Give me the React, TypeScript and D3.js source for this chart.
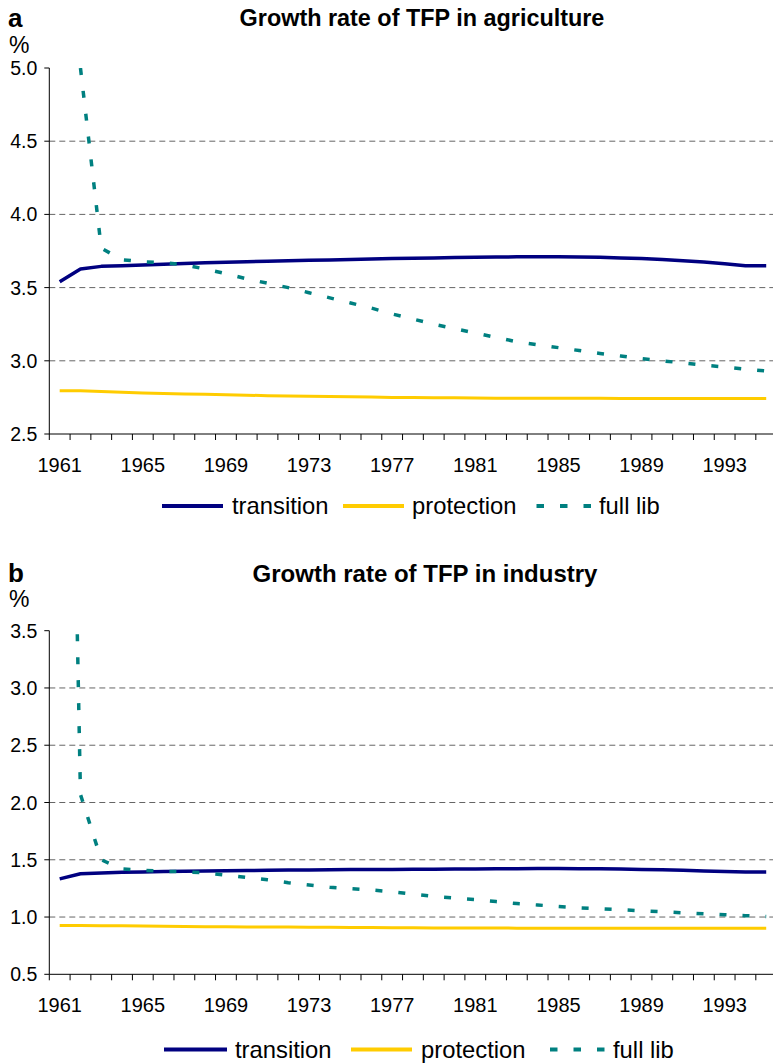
import * as d3 from 'd3';
import React from 'react';

// categories
const years = [
  1961, 1962, 1963, 1964, 1965, 1966, 1967, 1968, 1969, 1970, 1971, 1972,
  1973, 1974, 1975, 1976, 1977, 1978, 1979, 1980, 1981, 1982, 1983, 1984,
  1985, 1986, 1987, 1988, 1989, 1990, 1991, 1992, 1993, 1994, 1995,
];
const xTickLabels = [1961, 1965, 1969, 1973, 1977, 1981, 1985, 1989, 1993];

const seriesNames = ['transition', 'protection', 'full lib'];
const seriesColors = ['#000080', '#FFCC00', '#008080'];

// panel a: agriculture
const agriYTicks = [2.5, 3.0, 3.5, 4.0, 4.5, 5.0];
const agriGrid = [3.0, 3.5, 4.0, 4.5];
const agriTransition = [
  3.54, 3.627, 3.645, 3.65, 3.655, 3.66, 3.665, 3.67, 3.673, 3.677, 3.68, 3.683,
  3.686, 3.689, 3.692, 3.695, 3.698, 3.701, 3.703, 3.705, 3.708, 3.709, 3.71, 3.71,
  3.71, 3.709, 3.707, 3.703, 3.698, 3.692, 3.684, 3.675, 3.663, 3.65, 3.65,
];
const agriProtection = [
  2.795, 2.795, 2.79, 2.785, 2.78, 2.777, 2.774, 2.771, 2.768, 2.765, 2.762, 2.76,
  2.758, 2.756, 2.754, 2.752, 2.75, 2.749, 2.748, 2.747, 2.746, 2.745, 2.745, 2.744,
  2.744, 2.744, 2.744, 2.743, 2.743, 2.743, 2.743, 2.743, 2.743, 2.743, 2.743,
];
const agriFullLib = [
  null, 5.0, 3.77, 3.69, 3.677, 3.67, 3.655, 3.627, 3.595, 3.56, 3.53, 3.5,
  3.465, 3.43, 3.395, 3.36, 3.32, 3.285, 3.25, 3.22, 3.19, 3.16, 3.13, 3.11,
  3.09, 3.07, 3.05, 3.033, 3.015, 3.0, 2.985, 2.97, 2.958, 2.943, 2.93,
];

// panel b: industry
const indYTicks = [0.5, 1.0, 1.5, 2.0, 2.5, 3.0, 3.5];
const indGrid = [1.0, 1.5, 2.0, 2.5, 3.0];
const indTransition = [
  1.333, 1.378, 1.385, 1.39, 1.394, 1.397, 1.4, 1.402, 1.404, 1.406, 1.408, 1.41,
  1.411, 1.413, 1.414, 1.415, 1.416, 1.417, 1.418, 1.419, 1.42, 1.421, 1.422, 1.423,
  1.423, 1.422, 1.421, 1.419, 1.416, 1.413, 1.408, 1.403, 1.398, 1.394, 1.394,
];
const indProtection = [
  0.925, 0.925, 0.924, 0.923, 0.921, 0.919, 0.917, 0.916, 0.915, 0.914, 0.913, 0.912,
  0.911, 0.91, 0.909, 0.908, 0.907, 0.906, 0.905, 0.905, 0.904, 0.904, 0.903, 0.903,
  0.903, 0.902, 0.902, 0.902, 0.902, 0.902, 0.902, 0.902, 0.902, 0.902, 0.902,
];
const indFullLib = [
  11.3, 2.07, 1.5, 1.42, 1.408, 1.4, 1.395, 1.385, 1.365, 1.345, 1.325, 1.3,
  1.28, 1.26, 1.248, 1.236, 1.22, 1.2, 1.18, 1.165, 1.152, 1.135, 1.118, 1.105,
  1.092, 1.08, 1.072, 1.064, 1.055, 1.046, 1.037, 1.028, 1.02, 1.012, 1.005,
];

const W = 773;
const H = 1064;
const FONT = '"Liberation Sans", Arial, sans-serif';
const axisX = 49.3;
const band = 20.78;

const Panel = ({ id, letter, title, yTicks, grid, data, lay }) => {
  const x = d3.scaleBand()
    .domain(years.map(String))
    .range([axisX, axisX + band * years.length])
    .padding(0);
  const y = d3.scaleLinear()
    .domain([yTicks[0], yTicks[yTicks.length - 1]])
    .range([lay.bottom, lay.top]);
  const cx = (i) => x(String(years[i])) + x.bandwidth() / 2;
  const line = d3.line()
    .defined((d) => d != null)
    .x((d, i) => cx(i))
    .y((d) => y(d));

  const widths = [3.5, 3, 3.5];

  return (
    <g>
      <defs>
        <clipPath id={`clip-${id}`}>
          <rect x={axisX} y={lay.top} width={W - axisX + 10} height={lay.bottom - lay.top} />
        </clipPath>
      </defs>

      <text x={8} y={lay.letterY} fontSize={26} fontWeight="bold" fontFamily={FONT}>{letter}</text>
      <text x={lay.titleX} y={lay.titleY} fontSize={lay.titleSize} fontWeight="bold" textAnchor="middle" fontFamily={FONT}>{title}</text>
      <text x={9} y={lay.pctY} fontSize={23} fontFamily={FONT}>%</text>

      {/* grid */}
      {grid.map((g) => (
        <line key={g} x1={axisX} x2={W} y1={y(g)} y2={y(g)} stroke="#666" strokeWidth={1} strokeDasharray="6,4" />
      ))}

      {/* y axis */}
      <line x1={axisX} x2={axisX} y1={lay.top} y2={lay.bottom} stroke="#000" strokeWidth={1} />
      {yTicks.map((t) => (
        <g key={t}>
          <line x1={axisX - 5} x2={axisX} y1={y(t)} y2={y(t)} stroke="#000" strokeWidth={1} />
          <text x={axisX - 12} y={y(t) + 7} fontSize={19.5} textAnchor="end" fontFamily={FONT}>{t.toFixed(1)}</text>
        </g>
      ))}

      {/* x axis */}
      <line x1={axisX} x2={W} y1={lay.bottom} y2={lay.bottom} stroke="#000" strokeWidth={1} />
      {years.map((yr) => (
        <line key={yr} x1={x(String(yr))} x2={x(String(yr))} y1={lay.bottom} y2={lay.bottom + 6} stroke="#000" strokeWidth={1} />
      ))}
      {xTickLabels.map((yr) => (
        <text key={yr} x={x(String(yr)) + x.bandwidth() / 2} y={lay.bottom + 38} fontSize={20} textAnchor="middle" fontFamily={FONT}>{yr}</text>
      ))}

      {/* series */}
      <g clipPath={`url(#clip-${id})`}>
        {data.map((s, k) => (
          <path
            key={seriesNames[k]}
            d={line(s)}
            fill="none"
            stroke={seriesColors[k]}
            strokeWidth={widths[k]}
            strokeLinejoin="round"
            strokeDasharray={k === 2 ? '7,16' : undefined}
          />
        ))}
      </g>

      {/* legend */}
      {lay.legend.map((it, k) => (
        <g key={seriesNames[k]}>
          <line
            x1={it.x1}
            x2={it.x2}
            y1={lay.legendY}
            y2={lay.legendY}
            stroke={seriesColors[k]}
            strokeWidth={4}
            strokeDasharray={k === 2 ? '7.5,16' : undefined}
          />
          <text x={it.tx} y={lay.legendY + 8} fontSize={23.8} fontFamily={FONT}>{seriesNames[k]}</text>
        </g>
      ))}
    </g>
  );
};

const layA = {
  top: 68, bottom: 434, letterY: 27, titleX: 422, titleY: 26, titleSize: 23.4, pctY: 53, legendY: 506,
  legend: [
    { x1: 162, x2: 223, tx: 232 },
    { x1: 343, x2: 404, tx: 412 },
    { x1: 536.5, x2: 592, tx: 599 },
  ],
};
const layB = {
  top: 630.7, bottom: 974.3, letterY: 582, titleX: 425, titleY: 582, titleSize: 24, pctY: 607, legendY: 1049.5,
  legend: [
    { x1: 164, x2: 227, tx: 235 },
    { x1: 351, x2: 412, tx: 421 },
    { x1: 550, x2: 607, tx: 613 },
  ],
};

export default function App() {
  return (
    <svg width={W} height={H} style={{ position: 'absolute', left: 0, top: 0, background: '#fff' }}>
      <rect width={W} height={H} fill="#fff" />
      <Panel
        id="a"
        letter="a"
        title="Growth rate of TFP in agriculture"
        yTicks={agriYTicks}
        grid={agriGrid}
        data={[agriTransition, agriProtection, agriFullLib]}
        lay={layA}
      />
      <Panel
        id="b"
        letter="b"
        title="Growth rate of TFP in industry"
        yTicks={indYTicks}
        grid={indGrid}
        data={[indTransition, indProtection, indFullLib]}
        lay={layB}
      />
    </svg>
  );
}
